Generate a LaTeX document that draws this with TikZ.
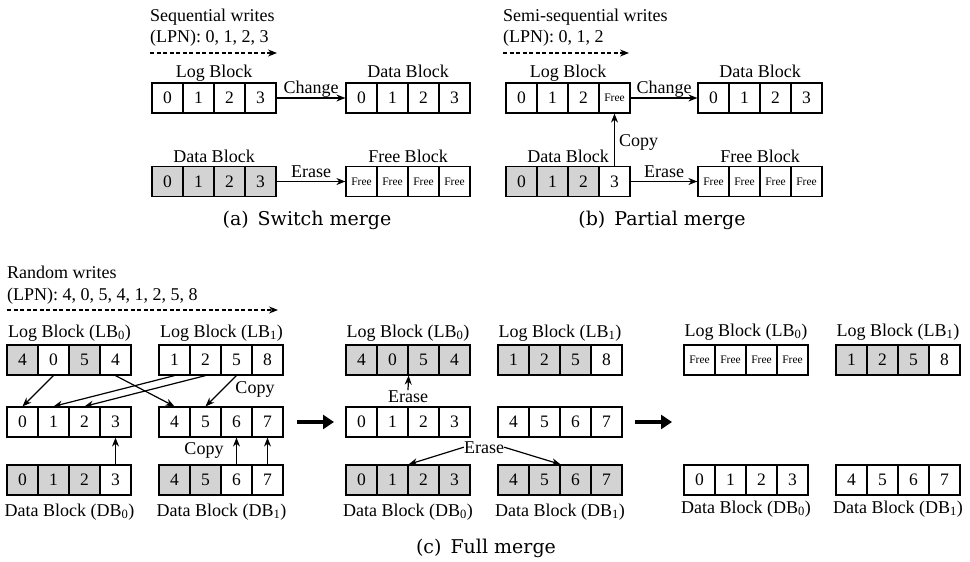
\documentclass[tikz,border=0pt]{standalone}
\usepackage{fontspec}
\setmainfont{Liberation Serif}
\newfontfamily\capfam{DejaVu Serif}
\usetikzlibrary{arrows.meta,calc}
\definecolor{cellgray}{RGB}{211,211,211}
\newcommand\fr{{\fontsize{11.5}{12}\selectfont Free}}
\newcommand\capf{\capfam\fontsize{19}{21}\selectfont}
\newcommand\blockrow[4]{%
  \foreach \t/\f [count=\i from 0] in {#4}{
    \node[cell, fill=\f] (#1-\i) at (#2+15.5+31*\i, #3) {\t};
  }%
}
\tikzset{
  cell/.style={draw, line width=1.2pt, minimum width=31pt, minimum height=30pt, inner sep=0pt, font=\fontsize{17.5}{17.5}\selectfont},
  lbl/.style={font=\fontsize{18}{18}\selectfont, anchor=base, inner sep=0pt},
  captxt/.style={font=\capf, anchor=base, inner sep=0pt},
  arr/.style={line width=1.2pt, -{Stealth[length=9pt,width=7pt]}},
  darr/.style={line width=1.2pt, dash pattern=on 4pt off 2.5pt, -{Stealth[length=9pt,width=7pt]}},
  bigarr/.style={line width=4.5pt, -{Triangle[length=11pt,width=14pt]}},
}
\begin{document}
\begin{tikzpicture}[x=1pt,y=-1pt]
\useasboundingbox (0,0) rectangle (970,562);

% ---------------- (a) Switch merge
\node[lbl, anchor=base west] (aSeq) at (150,21) {Sequential writes};
\node[lbl, anchor=base west] (aLPN) at (150,42) {(LPN): 0, 1, 2, 3};
\coordinate (aS) at (150,53); \coordinate (aE) at (277,53);
\draw[darr] (aS) -- (aE);
\blockrow{aLB}{152}{98}{0/white,1/white,2/white,3/white}
\blockrow{aDB}{346}{98}{0/white,1/white,2/white,3/white}
\blockrow{aDD}{152}{181.5}{0/cellgray,1/cellgray,2/cellgray,3/cellgray}
\blockrow{aFB}{346}{181.5}{\fr/white,\fr/white,\fr/white,\fr/white}
\node[lbl] (aLBl) at (214,77) {Log Block};
\node[lbl] (aDBl) at (408,77) {Data Block};
\node[lbl] (aDDl) at (214,162) {Data Block};
\node[lbl] (aFBl) at (408,162) {Free Block};
\draw[arr] (aLB-3.east) -- (aDB-0.west) node[lbl, midway, yshift=5pt] {Change};
\draw[arr] (aDD-3.east) -- (aFB-0.west) node[lbl, midway, yshift=4.5pt] {Erase};
\node[captxt] (acap) at (307,225) {(a)\hspace{9pt}Switch merge};

% ---------------- (b) Partial merge
\node[lbl, anchor=base west] (bSeq) at (503,21) {Semi-sequential writes};
\node[lbl, anchor=base west] (bLPN) at (503,42) {(LPN): 0, 1, 2};
\coordinate (bS) at (503,53); \coordinate (bE) at (629,53);
\draw[darr] (bS) -- (bE);
\blockrow{bLB}{506}{98}{0/white,1/white,2/white,\fr/white}
\blockrow{bDB}{698}{98}{0/white,1/white,2/white,3/white}
\blockrow{bDD}{506}{181.5}{0/cellgray,1/cellgray,2/cellgray,3/white}
\blockrow{bFB}{698}{181.5}{\fr/white,\fr/white,\fr/white,\fr/white}
\node[lbl] (bLBl) at (568,77) {Log Block};
\node[lbl] (bDBl) at (760,77) {Data Block};
\node[lbl] (bDDl) at (568,162) {Data Block};
\node[lbl] (bFBl) at (760,162) {Free Block};
\draw[arr] (bLB-3.east) -- (bDB-0.west) node[lbl, midway, yshift=5pt] {Change};
\draw[arr] (bDD-3.east) -- (bFB-0.west) node[lbl, midway, yshift=4.5pt] {Erase};
\draw[arr] (bDD-3.north) -- (bLB-3.south);
\node[lbl, anchor=base west] (bcopy) at (619,146) {Copy};
\node[captxt] (bcap) at (662,225) {(b)\hspace{9pt}Partial merge};

% ---------------- (c) Full merge
\node[lbl, anchor=base west] (cRan) at (7,278) {Random writes};
\node[lbl, anchor=base west] (cLPN) at (7,300) {(LPN): 4, 0, 5, 4, 1, 2, 5, 8};
\coordinate (cS) at (7,310); \coordinate (cE) at (278,310);
\draw[darr] (cS) -- (cE);

% left group
\blockrow{L0}{7}{360}{4/cellgray,0/white,5/cellgray,4/white}
\blockrow{L1}{159}{360}{1/white,2/white,5/white,8/white}
\blockrow{M0}{7}{422}{0/white,1/white,2/white,3/white}
\blockrow{M1}{159}{422}{4/white,5/white,6/white,7/white}
\blockrow{D0}{7}{480}{0/cellgray,1/cellgray,2/cellgray,3/white}
\blockrow{D1}{159}{480}{4/cellgray,5/cellgray,6/white,7/white}
\node[lbl] (L0l) at (69.5,337) {Log Block (LB\textsubscript{0})};
\node[lbl] (L1l) at (221.5,337) {Log Block (LB\textsubscript{1})};
\node[lbl] (D0l) at (69.5,516) {Data Block (DB\textsubscript{0})};
\node[lbl] (D1l) at (221.5,516) {Data Block (DB\textsubscript{1})};
\draw[arr] (L0-1.south) -- (M0-0.north);
\draw[arr] (L0-3.south) -- (M1-0.north);
\draw[arr] (L1-0.south) -- (M0-1.north);
\draw[arr] (L1-1.south) -- (M0-2.north);
\draw[arr] (L1-2.south) -- (M1-1.north);
\draw[arr] (D0-3.north) -- (M0-3.south);
\draw[arr] (D1-2.north) -- (M1-2.south);
\draw[arr] (D1-3.north) -- (M1-3.south);
\node[lbl] (copy1) at (255,393) {Copy};
\node[lbl] (copy2) at (204,454) {Copy};
\coordinate (g1s) at (297,422); \coordinate (g1e) at (334,422);
\draw[bigarr] (g1s) -- (g1e);

% middle group
\blockrow{mL0}{346}{360}{4/cellgray,0/cellgray,5/cellgray,4/cellgray}
\blockrow{mL1}{498}{360}{1/cellgray,2/cellgray,5/cellgray,8/white}
\blockrow{mM0}{346}{422}{0/white,1/white,2/white,3/white}
\blockrow{mM1}{498}{422}{4/white,5/white,6/white,7/white}
\blockrow{mD0}{346}{480}{0/cellgray,1/cellgray,2/cellgray,3/cellgray}
\blockrow{mD1}{498}{480}{4/cellgray,5/cellgray,6/cellgray,7/cellgray}
\node[lbl] (mL0l) at (408,337) {Log Block (LB\textsubscript{0})};
\node[lbl] (mL1l) at (560,337) {Log Block (LB\textsubscript{1})};
\node[lbl] (mD0l) at (408,516) {Data Block (DB\textsubscript{0})};
\node[lbl] (mD1l) at (560,516) {Data Block (DB\textsubscript{1})};
\node[lbl] (er1) at (408,402) {Erase};
\draw[arr] (er1.north) -- (mL0-1.south east);
\node[lbl] (er2) at (484,453) {Erase};
\draw[arr] (er2.west) -- (mD0-1.north east);
\draw[arr] (er2.east) -- (mD1-1.north east);
\coordinate (g2s) at (635,422); \coordinate (g2e) at (672,422);
\draw[bigarr] (g2s) -- (g2e);

% right group
\blockrow{rL0}{684}{360}{\fr/white,\fr/white,\fr/white,\fr/white}
\blockrow{rL1}{836}{360}{1/cellgray,2/cellgray,5/cellgray,8/white}
\blockrow{rD0}{684}{480}{0/white,1/white,2/white,3/white}
\blockrow{rD1}{836}{480}{4/white,5/white,6/white,7/white}
\node[lbl] (rL0l) at (746,336) {Log Block (LB\textsubscript{0})};
\node[lbl] (rL1l) at (898,336) {Log Block (LB\textsubscript{1})};
\node[lbl] (rD0l) at (746,513) {Data Block (DB\textsubscript{0})};
\node[lbl] (rD1l) at (898,513) {Data Block (DB\textsubscript{1})};

\node[captxt] (ccap) at (486,553) {(c)\hspace{9pt}Full merge};
\end{tikzpicture}
\end{document}
